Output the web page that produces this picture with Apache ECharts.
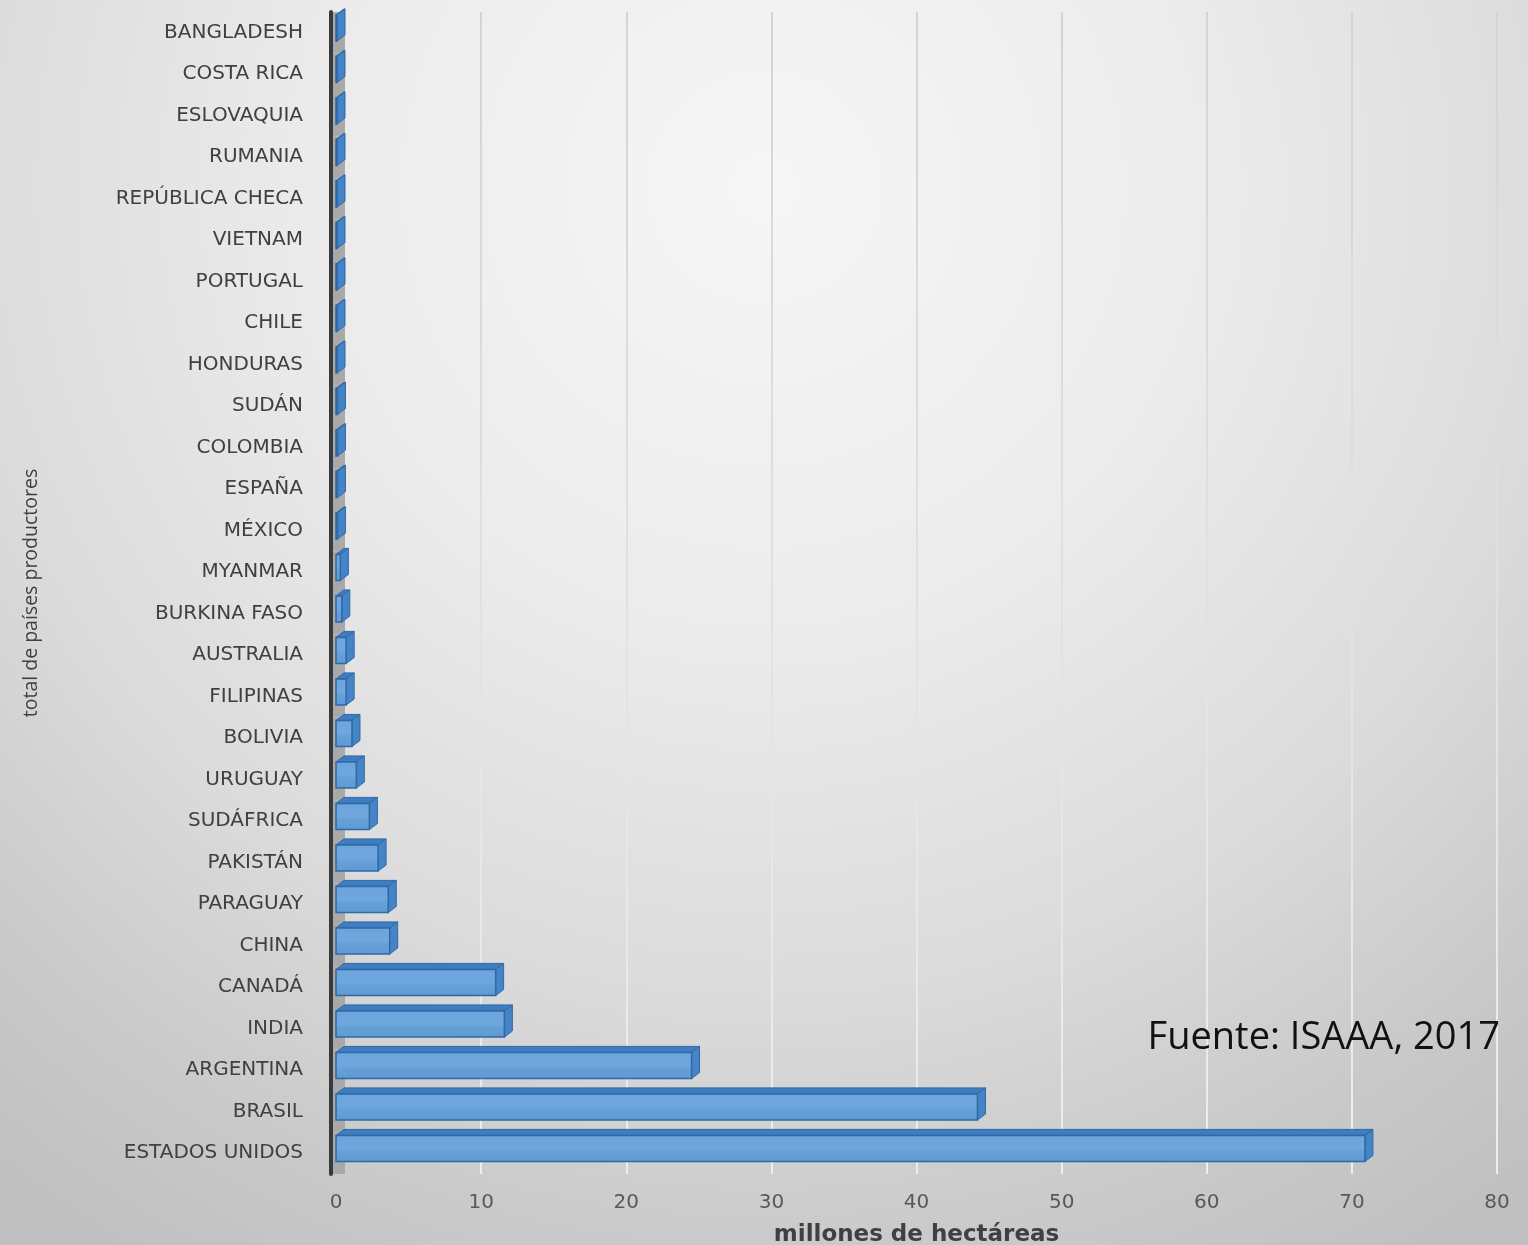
<!DOCTYPE html>
<html>
<head>
<meta charset="utf-8">
<script src="https://cdn.jsdelivr.net/npm/echarts@6/dist/echarts.min.js"></script>
<style>
html,body{margin:0;padding:0;width:1528px;height:1245px;overflow:hidden;}
#chart{width:1528px;height:1245px;}
</style>
</head>
<body>
<div id="chart"></div>
<script>
// Categories listed from bottom (first) to top (last)
const categories = ['ESTADOS UNIDOS','BRASIL','ARGENTINA','INDIA','CANADÁ','CHINA','PARAGUAY','PAKISTÁN','SUDÁFRICA','URUGUAY','BOLIVIA','FILIPINAS','AUSTRALIA','BURKINA FASO','MYANMAR','MÉXICO','ESPAÑA','COLOMBIA','SUDÁN','HONDURAS','CHILE','PORTUGAL','VIETNAM','REPÚBLICA CHECA','RUMANIA','ESLOVAQUIA','COSTA RICA','BANGLADESH'];
// millones de hectáreas
const values = [70.9, 44.2, 24.5, 11.6, 11.0, 3.7, 3.6, 2.9, 2.3, 1.4, 1.1, 0.7, 0.7, 0.4, 0.3, 0.1, 0.1, 0.1, 0.1, 0.05, 0.05, 0.05, 0.05, 0.05, 0.05, 0.05, 0.05, 0.05];
const xMin = 0, xMax = 80, xStep = 10;
const xAxisName = 'millones de hectáreas';
const yAxisName = 'total de países productores';
const sourceText = 'Fuente: ISAAA, 2017';

const chart = echarts.init(document.getElementById('chart'));
const seriesData = values.map((v, i) => [v, i]);

function renderWall(params, api) {
  const i = api.value(1);
  const p0 = api.coord([0, i]);
  const band = api.size([0, 1])[1];
  return {
    type: 'rect',
    shape: { x: p0[0] - 3, y: p0[1] - band / 2, width: 12, height: band },
    style: { fill: '#a9a9a9' }
  };
}

function renderBar(params, api) {
  const v = api.value(0);
  const i = api.value(1);
  const p0 = api.coord([0, i]);
  const p1 = api.coord([v, i]);
  const band = api.size([0, 1])[1];
  const h = band * 0.63;
  const yTop = p0[1] - band * 0.43;
  const yBot = yTop + h;
  const dx = 8, dy = 6;
  const x0 = p0[0], x1 = Math.max(p1[0], p0[0] + 1);
  const edge = '#2f69a6';
  return {
    type: 'group',
    children: [
      { type: 'polygon', shape: { points: [[x0, yTop], [x1, yTop], [x1 + dx, yTop - dy], [x0 + dx, yTop - dy]] },
        style: { fill: '#3f7cc0', stroke: edge, lineWidth: 1 } },
      { type: 'polygon', shape: { points: [[x1, yTop], [x1 + dx, yTop - dy], [x1 + dx, yBot - dy], [x1, yBot]] },
        style: { fill: '#4584c6', stroke: edge, lineWidth: 1 } },
      { type: 'rect', shape: { x: x0, y: yTop, width: x1 - x0, height: h },
        style: {
          fill: new echarts.graphic.LinearGradient(0, 0, 0, 1, [
            { offset: 0, color: '#6ba4db' },
            { offset: 0.5, color: '#70a8de' },
            { offset: 0.6, color: '#66a0d8' },
            { offset: 1, color: '#5f9ad4' }
          ]),
          stroke: edge, lineWidth: 1.5
        } }
    ]
  };
}

chart.setOption({
  animation: false,
  backgroundColor: {
    type: 'radial', x: 0.5, y: 0.15, r: 1.0,
    colorStops: [
      { offset: 0, color: '#f6f6f6' },
      { offset: 0.35, color: '#ececec' },
      { offset: 0.65, color: '#dbdbdb' },
      { offset: 0.85, color: '#cacaca' },
      { offset: 1, color: '#c0c0c0' }
    ]
  },
  title: {
    text: sourceText,
    right: 28, top: 1019, padding: 0,
    textStyle: { fontFamily: 'Open Sans', fontSize: 38, fontWeight: 'normal', color: '#111111' }
  },
  grid: { left: 336, right: 31, top: 12, bottom: 71, containLabel: false, outerBoundsMode: 'none' },
  xAxis: {
    type: 'value', min: xMin, max: xMax, interval: xStep,
    name: xAxisName, nameLocation: 'middle', nameGap: 50,
    nameTextStyle: { fontFamily: 'DejaVu Sans', fontSize: 23, fontWeight: 'bold', color: '#404040' },
    axisLine: { show: false }, axisTick: { show: false },
    axisLabel: { margin: 19, fontFamily: 'DejaVu Sans', fontSize: 20, color: '#595959' },
    splitLine: {
      show: true,
      lineStyle: {
        width: 2,
        color: new echarts.graphic.LinearGradient(0, 0, 0, 1, [
          { offset: 0, color: '#d4d4d4' },
          { offset: 1, color: '#eeeeee' }
        ])
      }
    }
  },
  yAxis: {
    type: 'category', data: categories, offset: 5,
    name: yAxisName, nameLocation: 'middle', nameGap: 290, nameRotate: 90,
    nameTextStyle: { fontFamily: 'Open Sans', fontSize: 19.5, color: '#404040' },
    axisLine: { show: true, onZero: false, lineStyle: { color: '#3a3a3a', width: 4 } },
    axisTick: { show: false },
    axisLabel: { margin: 28, fontFamily: 'DejaVu Sans', fontSize: 20, color: '#404040' },
    splitLine: { show: false }
  },
  series: [
    { type: 'custom', name: 'wall', renderItem: renderWall, data: seriesData, encode: { x: 0, y: 1 }, z: 1, silent: true },
    { type: 'custom', name: 'bars', renderItem: renderBar, data: seriesData, encode: { x: 0, y: 1 }, z: 2 }
  ]
});
</script>
</body>
</html>
